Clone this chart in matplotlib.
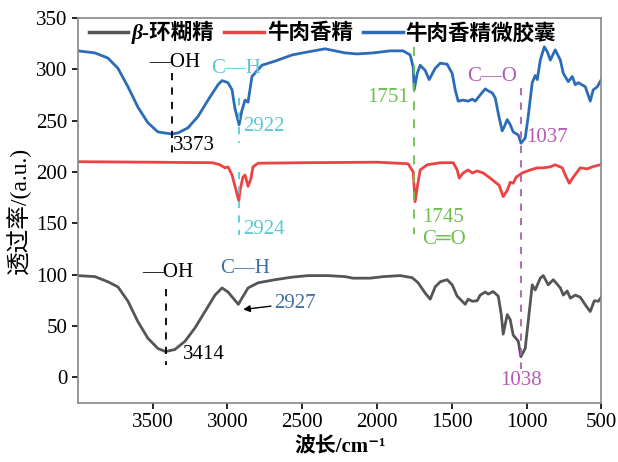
import matplotlib
matplotlib.use('Agg')
import matplotlib.pyplot as plt
from matplotlib import rcParams

rcParams['font.family'] = ['Liberation Serif', 'DejaVu Sans', 'Noto Sans CJK SC']
rcParams['font.size'] = 13
rcParams['axes.unicode_minus'] = False

CJK = ['Liberation Serif', 'DejaVu Sans', 'Noto Sans CJK SC']

# beta-cyclodextrin (gray)
cd_wn = [4000, 3886, 3799, 3732, 3665, 3598, 3532, 3465, 3414, 3351, 3284, 3217, 3150,
         3083, 3036, 2996, 2927, 2903, 2862, 2795, 2682, 2568, 2461, 2327, 2213, 2160,
         2046, 1959, 1845, 1765, 1725, 1678, 1644, 1611, 1577, 1531, 1497, 1464, 1430,
         1410, 1390, 1363, 1330, 1310, 1276, 1256, 1223, 1189, 1169, 1156, 1129, 1109,
         1089, 1055, 1038, 1009, 989, 962, 942, 908, 888, 855, 821, 774, 754, 728, 707,
         674, 641, 607, 574, 547, 520, 500]
cd_t = [99, 98, 93, 88, 74, 54, 38, 28, 25, 27, 35, 48, 64,
        80, 87, 83, 71, 77, 87, 92, 95, 97.5, 99, 99, 98, 96.5,
        96.5, 98, 99, 97, 92, 82, 76, 88, 93, 95, 90, 79, 74,
        71, 76, 74, 74.5, 80, 83, 81, 83.5, 79, 61, 42, 61, 56,
        41, 35, 20, 28, 54, 90, 85, 96.5, 99, 90, 95, 87, 80, 84, 77,
        80, 78, 70.5, 64, 74.5, 74, 78]

# beef flavor (red)
bf_wn = [4000, 3500, 3100, 3050, 3016, 2996, 2969, 2924, 2916, 2896, 2882, 2862, 2842,
         2829, 2795, 2500, 2000, 1792, 1758, 1745, 1731, 1711, 1664, 1577, 1490, 1464,
         1450, 1424, 1390, 1363, 1330, 1290, 1243, 1209, 1183, 1156, 1129, 1109, 1089,
         1069, 1029, 975, 928, 888, 841, 808, 761, 741, 714, 687, 641, 594, 560, 507, 500]
bf_t = [210, 209.5, 209, 207, 204, 205, 197, 172, 182, 195, 197, 186, 194,
        205, 208.5, 209, 209.5, 208, 200, 171, 185, 202, 207, 209, 209, 202,
        194, 199, 202, 199, 201, 199, 194, 190, 187, 176, 182, 190, 189,
        195, 199, 202, 204, 204, 205, 207, 204, 197, 189, 195, 204, 203, 205, 207, 207]

# beef flavor microcapsule (blue)
mc_wn = [4000, 3886, 3799, 3732, 3665, 3598, 3532, 3465, 3373, 3331, 3264, 3197, 3130,
         3063, 3036, 3016, 2996, 2969, 2950, 2922, 2903, 2882, 2862, 2836, 2769, 2682,
         2568, 2461, 2347, 2213, 2133, 2026, 1912, 1825, 1778, 1758, 1751, 1731, 1711,
         1678, 1651, 1611, 1577, 1531, 1497, 1477, 1457, 1424, 1390, 1363, 1343, 1310,
         1276, 1256, 1229, 1209, 1189, 1163, 1149, 1129, 1109, 1089, 1055, 1037, 1009,
         989, 962, 942, 928, 908, 881, 861, 841, 808, 774, 754, 721, 694, 674, 654,
         607, 574, 554, 527, 500]
mc_t = [318, 316, 311, 301, 283, 263, 248, 239, 237, 238, 243, 254, 270,
        285, 289, 288, 287, 280, 262, 246, 260, 270, 268, 293, 304, 308,
        314, 317, 320, 316, 315, 316, 318, 318, 314, 302, 280, 296, 304,
        299, 290, 301, 306, 305, 296, 280, 269, 270, 269, 271, 269, 275,
        281, 279, 277, 272, 257, 240, 244, 251, 246, 239, 236, 228, 233,
        254, 287, 294, 290, 309, 322, 317, 309, 319, 309, 296, 288, 293, 285, 287,
        283, 269, 280, 283, 290]

labels = ['β-环糊精', '牛肉香精', '牛肉香精微胶囊']
colors = ['#555555', '#ee4242', '#2b6cb8']

cyan = '#5cc8d2'
green = '#6cc04a'
purple = '#b25ab4'
steel = '#3f6fa5'
fs = 15

fig, ax = plt.subplots(figsize=(6.18, 4.62), dpi=100)
fig.subplots_adjust(left=0.126, right=0.973, top=0.961, bottom=0.128)

for wn, t, lab, c in zip((cd_wn, bf_wn, mc_wn), (cd_t, bf_t, mc_t), labels, colors):
    ax.plot(wn, t, color=c, lw=2.0, label=lab, solid_joinstyle='round')

# marker lines
ax.plot([3373, 3373], [296, 213], ls=(0, (4, 4)), color='black', lw=1.3)
ax.plot([2922, 2922], [272, 228], ls=(0, (4, 4)), color=cyan, lw=1.3)
ax.plot([2924, 2924], [200, 139], ls=(0, (4, 4)), color=cyan, lw=1.3)
ax.plot([1751, 1751], [322, 140], ls=(0, (5, 5)), color=green, lw=1.3)
ax.plot([1037, 1037], [282, 8], ls=(0, (4, 4)), color=purple, lw=1.3)
ax.plot([3414, 3414], [86, 12], ls=(0, (4, 4)), color='black', lw=1.3)

# annotations - microcapsule
ax.text(3351, 307, '—OH', ha='center', va='center', fontsize=fs, color='black')
ax.text(3362, 226, '3373', ha='left', va='center', fontsize=fs, color='black')
ax.text(2943, 301, 'C—H', ha='center', va='center', fontsize=fs, color=cyan)
ax.text(2895, 244, '2922', ha='left', va='center', fontsize=fs, color=cyan)
ax.text(1785, 273, '1751', ha='right', va='center', fontsize=fs, color=green)
ax.text(1230, 293, 'C—O', ha='center', va='center', fontsize=fs, color=purple)
ax.text(1000, 234, '1037', ha='left', va='center', fontsize=fs, color=purple)

# annotations - beef flavor
ax.text(2895, 144, '2924', ha='left', va='center', fontsize=fs, color=cyan)
ax.text(1700, 156, '1745', ha='left', va='center', fontsize=fs, color=green)
ax.text(1700, 134, 'C═O', ha='left', va='center', fontsize=fs, color=green)

# annotations - cyclodextrin
ax.text(3398, 102, '—OH', ha='center', va='center', fontsize=fs, color='black')
ax.text(3300, 22, '3414', ha='left', va='center', fontsize=fs, color='black')
ax.text(2882, 106, 'C—H', ha='center', va='center', fontsize=fs, color=steel)
ax.annotate('2927', xy=(2895, 66), xytext=(2690, 72), ha='left', va='center',
            fontsize=fs, color=steel,
            arrowprops=dict(arrowstyle='-|>', color='black', lw=1.0,
                            mutation_scale=10, shrinkA=0, shrinkB=0))
ax.text(1038, -3, '1038', ha='center', va='center', fontsize=fs, color=purple)

ax.set_xlim(4000, 500)
ax.set_ylim(-25, 350)
ax.set_xticks([3500, 3000, 2500, 2000, 1500, 1000, 500])
ax.set_yticks(range(0, 351, 50))
ax.tick_params(direction='out', length=4, width=1.2, labelsize=15,
               top=False, right=False)
for s in ax.spines.values():
    s.set_color('#888888')
    s.set_linewidth(1.2)

ax.set_xlabel('波长/cm⁻¹', fontsize=15, fontweight='bold', family=CJK, labelpad=4)
ax.set_ylabel('透过率/(a.u.)', fontsize=17, family=CJK, labelpad=4)

leg = ax.legend(loc='upper left', bbox_to_anchor=(0.0, 1.02), ncol=3, frameon=False,
                handlelength=1.85, handletextpad=0.15, columnspacing=0.45,
                borderaxespad=0.2, borderpad=0.3,
                prop=dict(family=CJK, size=15.5, weight='bold'))
for h in leg.get_lines():
    h.set_linewidth(2.5)
leg.get_texts()[0].set_fontstyle('italic')

fig.savefig('out.png', dpi=100)
